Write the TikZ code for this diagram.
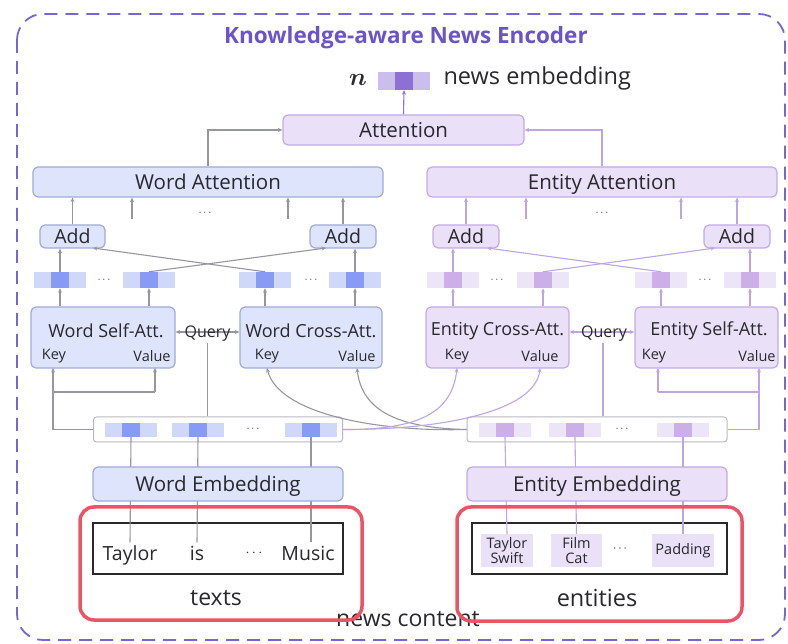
\documentclass[tikz,border=0pt]{standalone}
\usepackage{fontspec}
\setmainfont{Open Sans}
\usepackage{bm}
\usetikzlibrary{arrows.meta}

\definecolor{txt}{RGB}{40,40,45}
\definecolor{frame}{RGB}{120,100,210}
\definecolor{titlec}{RGB}{105,85,200}
\definecolor{bfill}{RGB}{222,228,252}
\definecolor{bdraw}{RGB}{160,170,215}
\definecolor{vfill}{RGB}{234,224,248}
\definecolor{vdraw}{RGB}{195,170,228}
\definecolor{bdark}{RGB}{135,155,245}
\definecolor{blight}{RGB}{208,216,250}
\definecolor{vdark}{RGB}{205,175,232}
\definecolor{vlight}{RGB}{236,228,247}
\definecolor{ndark}{RGB}{140,112,212}
\definecolor{nlight}{RGB}{202,190,236}
\definecolor{gline}{RGB}{150,150,160}
\definecolor{vline}{RGB}{190,165,225}
\definecolor{redc}{RGB}{236,84,102}
\definecolor{barline}{RGB}{185,185,195}

\tikzset{
  tip/.style={-{Stealth[length=4.5pt,width=4pt]}},
  dtip/.style={{Stealth[length=4.5pt,width=4pt]}-{Stealth[length=4.5pt,width=4pt]}},
  blk/.style={rounded corners=5pt, draw=#1, line width=1.2pt, inner sep=0pt, text=txt},
  bbox/.style={blk=bdraw, fill=bfill},
  vbox/.style={blk=vdraw, fill=vfill},
  cell/.style={inner sep=0pt, minimum width=17.3pt, minimum height=16pt},
  gl/.style={draw=gline, line width=1.1pt},
  vl/.style={draw=vline, line width=1.1pt},
  lbl/.style={font=\fontsize{20.5}{24}\selectfont, text=txt, text height=17pt, text depth=2.4pt},
  addl/.style={font=\fontsize{19.5}{23}\selectfont, text=txt, text height=15pt, text depth=1pt},
  attl/.style={font=\fontsize{18}{21}\selectfont, text=txt},
  small/.style={font=\fontsize{14.5}{17}\selectfont, text=txt},
  dots/.style={font=\fontsize{11}{13}\selectfont, text=txt, inner sep=0pt},
  bar/.style={rounded corners=3pt, draw=barline, fill=white, line width=1pt, inner sep=0pt},
  redbox/.style={rounded corners=14pt, draw=redc, line width=3.5pt},
}

% three-cell embedding vector: name, x, y, dark colour, light colour
\newcommand\emvec[5]{%
  \node[cell, fill=#5] at (#2-17.3,#3) {};
  \node[cell, fill=#5] at (#2+17.3,#3) {};
  \node[cell, fill=#4] (#1) at (#2,#3) {};
}

\begin{document}
\begin{tikzpicture}[x=1pt, y=-1pt]
\useasboundingbox (0,0) rectangle (788,644);

% outer encoder frame
\draw[frame, dashed, dash pattern=on 13pt off 8pt, line width=1.8pt, rounded corners=26pt]
  (17,14) rectangle (785,640);
\node[font=\bfseries\fontsize{22.5}{26}\selectfont, text=titlec] (title) at (406,38) {Knowledge-aware News Encoder};

% news embedding
\node[cell, fill=nlight, minimum height=18pt] at (386.7,81) {};
\node[cell, fill=nlight, minimum height=18pt] at (421.3,81) {};
\node[cell, fill=ndark, minimum height=18pt] (nv) at (404,81) {};
\node[text=txt, font=\fontsize{23}{26}\selectfont] (nsym) at (358,80) {$\bm{n}$};
\node[anchor=west, font=\fontsize{23.5}{27}\selectfont, text=txt] (nlab) at (440,78) {news embedding};

% attention stack
\node[vbox, minimum width=241pt, minimum height=30pt, lbl] (att) at (403.5,130) {Attention};
\node[bbox, minimum width=350pt, minimum height=30pt, lbl] (watt) at (208,182) {Word Attention};
\node[vbox, minimum width=350pt, minimum height=30pt, lbl] (eatt) at (602,182) {Entity Attention};

\draw[gl, tip] (watt.north) |- (att.west);
\draw[vl, tip] (eatt.north) |- (att.east);
\draw[vl, draw=ndark, tip] (att.north) -- (nv.south);

% add blocks
\node[bbox, minimum width=65pt, minimum height=23pt, addl] (aw1) at (72.5,236.5) {Add};
\node[bbox, minimum width=66pt, minimum height=23pt, addl] (aw2) at (343,236.5) {Add};
\node[vbox, minimum width=66pt, minimum height=23pt, addl] (ae1) at (466,236.5) {Add};
\node[vbox, minimum width=66pt, minimum height=23pt, addl] (ae2) at (737,236.5) {Add};

\coordinate (sw1) at (132,219);
\coordinate (sw2) at (288,219);
\coordinate (se1) at (526,219);
\coordinate (se2) at (681,219);
\draw[gl, tip] (aw1.north) -- (aw1.north |- watt.south);
\draw[gl, tip] (aw2.north) -- (aw2.north |- watt.south);
\draw[gl, tip] (sw1) -- (sw1 |- watt.south);
\draw[gl, tip] (sw2) -- (sw2 |- watt.south);
\draw[vl, tip] (ae1.north) -- (ae1.north |- eatt.south);
\draw[vl, tip] (ae2.north) -- (ae2.north |- eatt.south);
\draw[vl, tip] (se1) -- (se1 |- eatt.south);
\draw[vl, tip] (se2) -- (se2 |- eatt.south);
\node[dots] (dw0) at (205,213) {$\cdots$};
\node[dots] (de0) at (602,213) {$\cdots$};

% attention outputs
\emvec{vw1}{60}{280}{bdark}{blight}
\emvec{vw2}{149}{280}{bdark}{blight}
\emvec{vw3}{265}{280}{bdark}{blight}
\emvec{vw4}{355}{280}{bdark}{blight}
\emvec{ve1}{453}{280}{vdark}{vlight}
\emvec{ve2}{543}{280}{vdark}{vlight}
\emvec{ve3}{661}{280}{vdark}{vlight}
\emvec{ve4}{750}{280}{vdark}{vlight}
\node[dots] (dw1) at (104,280) {$\cdots$};
\node[dots] (dw2) at (311,280) {$\cdots$};
\node[dots] (de1) at (497,280) {$\cdots$};
\node[dots] (de2) at (705,280) {$\cdots$};

\coordinate (aw1x) at (93,248);
\coordinate (aw2x) at (326,248);
\coordinate (ae1x) at (487,248);
\coordinate (ae2x) at (715,248);
\draw[gl, tip] (vw1.north) -- (vw1.north |- aw1.south);
\draw[gl, tip] (vw4.north) -- (vw4.north |- aw2.south);
\draw[gl, tip] (vw2.north) -- (aw2x);
\draw[gl, tip] (vw3.north) -- (aw1x);
\draw[vl, tip] (ve1.north) -- (ve1.north |- ae1.south);
\draw[vl, tip] (ve4.north) -- (ve4.north |- ae2.south);
\draw[vl, tip] (ve2.north) -- (ae2x);
\draw[vl, tip] (ve3.north) -- (ae1x);

% self / cross attention blocks
\node[bbox, minimum width=144pt, minimum height=61pt] (wself) at (103,337.5) {};
\node[bbox, minimum width=142pt, minimum height=61pt] (wcross) at (311,337.5) {};
\node[vbox, minimum width=143pt, minimum height=61pt] (ecross) at (497.5,337.5) {};
\node[vbox, minimum width=143pt, minimum height=61pt] (eself) at (706.5,337.5) {};
\node[attl] at (106,331) {Word Self-Att.};
\node[attl] at (311,331) {Word Cross-Att.};
\node[attl] at (497.5,331) {Entity Cross-Att.};
\node[attl] at (709,331) {Entity Self-Att.};
\node[small] at (54,356) {Key};
\node[small] at (152,356) {Value};
\node[small] at (267,356) {Key};
\node[small] at (357,356) {Value};
\node[small] at (457,356) {Key};
\node[small] at (540,356) {Value};
\node[small] at (654,356) {Key};
\node[small] at (757,356) {Value};

\foreach \v in {vw1,vw2,vw3,vw4} \draw[gl, tip] (\v.south |- wself.north) -- (\v.south);
\foreach \v in {ve1,ve2,ve3,ve4} \draw[vl, tip] (\v.south |- ecross.north) -- (\v.south);

% queries
\draw[gl, dtip] ([yshift=5.5pt]wself.east) -- ([yshift=5.5pt]wcross.west);
\draw[vl, dtip] ([yshift=5.5pt]ecross.east) -- ([yshift=5.5pt]eself.west);
\node[font=\fontsize{16}{18}\selectfont, text=txt, inner sep=1pt] (qw) at (207.5,334) {Query};
\node[font=\fontsize{16}{18}\selectfont, text=txt, inner sep=1pt] (qe) at (604,334) {Query};
\coordinate (qwj) at (207.5,343);
\coordinate (qej) at (603,343);

% word / entity vector bars
\node[bar, minimum width=249pt, minimum height=25pt] (wbar) at (218,429.5) {};
\node[bar, minimum width=260pt, minimum height=25pt] (ebar) at (597,429.5) {};
\draw[gl] (qwj) -- (qwj |- wbar.north);
\draw[vl] (qej) -- (qej |- ebar.north);

\tikzset{cell/.append style={minimum height=14pt}}
\emvec{bw1}{131}{430}{bdark}{blight}
\emvec{bw2}{198}{430}{bdark}{blight}
\emvec{bw3}{311}{430}{bdark}{blight}
\emvec{be1}{505}{430}{vdark}{vlight}
\emvec{be2}{575}{430}{vdark}{vlight}
\emvec{be3}{683}{430}{vdark}{vlight}
\node[dots] (dw3) at (253,429) {$\cdots$};
\node[dots] (de3) at (622,429) {$\cdots$};

% key / value ports
\coordinate (wsk) at (53,368);
\coordinate (wsv) at (155,368);
\coordinate (wck) at (267,368);
\coordinate (wcv) at (357,368);
\coordinate (eck) at (457,368);
\coordinate (ecv) at (540,368);
\coordinate (esk) at (658,368);
\coordinate (esv) at (759,368);
\coordinate (wj1) at (53,392);
\coordinate (wj2) at (155,392);
\coordinate (ej1) at (658,392);
\coordinate (ej2) at (759,392);

\draw[gl] (wbar.west) -| (wj1) -- (wj2);
\draw[gl, tip] (wj1) -- (wsk);
\draw[gl, tip] (wj2) -- (wsv);
\draw[vl] (ebar.east) -| (ej2) -- (ej1);
\draw[vl, tip] (ej1) -- (esk);
\draw[vl, tip] (ej2) -- (esv);

% cross connections between the two branches
\draw[gl, tip] (ebar.west) .. controls (370,432) and (278,412) .. (wck);
\draw[gl, tip] (ebar.west) .. controls (400,428) and (362,412) .. (wcv);
\draw[vl, tip] (wbar.east) .. controls (420,430) and (452,412) .. (eck);
\draw[vl, tip] (wbar.east) .. controls (440,430) and (535,412) .. (ecv);

% raw news content
\node[minimum width=250pt, minimum height=51pt, draw=txt, line width=1.3pt] (wtxt) at (218,548.5) {};
\node[minimum width=255pt, minimum height=51pt, draw=txt, line width=1.3pt] (etxt) at (599.5,548.5) {};
\node[font=\fontsize{19.5}{23}\selectfont, text=txt, text height=14pt, text depth=4pt] (t1) at (130,555) {Taylor};
\node[font=\fontsize{19.5}{23}\selectfont, text=txt, text height=14pt, text depth=4pt] (t2) at (197,555) {is};
\node[font=\fontsize{14}{16}\selectfont, text=txt] (t3) at (254,553) {$\cdots$};
\node[font=\fontsize{19.5}{23}\selectfont, text=txt, text height=14pt, text depth=4pt] (t4) at (308,555) {Music};

\node[fill=vfill, minimum width=52pt, minimum height=33pt, inner sep=0pt, align=center,
      font=\fontsize{14.5}{15}\selectfont, text=txt] (e1) at (507,550.5) {Taylor\\Swift};
\node[fill=vfill, minimum width=51pt, minimum height=33pt, inner sep=0pt, align=center,
      font=\fontsize{14.5}{15}\selectfont, text=txt] (e2) at (576.5,550.5) {Film\\Cat};
\node[font=\fontsize{13}{15}\selectfont, text=txt] (e3) at (620,549) {$\cdots$};
\node[fill=vfill, minimum width=62pt, minimum height=33pt, inner sep=0pt,
      font=\fontsize{14.5}{15}\selectfont, text=txt] (e4) at (683,550.5) {Padding};

\draw[gl] (t1.north) -- (bw1.south);
\draw[gl] (t2.north) -- (bw2.south);
\draw[gl] (t4.north -| bw3.south) -- (bw3.south);
\draw[vl] (e1.north) -- (be1.south);
\draw[vl] (e2.north) -- (be2.south);
\draw[vl] (e4.north) -- (be3.south);

\node[bbox, minimum width=250pt, minimum height=34pt, lbl] (wemb) at (218,484) {Word Embedding};
\node[vbox, minimum width=260pt, minimum height=34pt, lbl] (eemb) at (597,484) {Entity Embedding};

\node[font=\fontsize{23}{26}\selectfont, text=txt] (ncont) at (408,619) {news content};
\node[font=\fontsize{23}{26}\selectfont, text=txt] (texts) at (216,598) {texts};
\node[font=\fontsize{23.5}{26}\selectfont, text=txt] (ents) at (597,598) {entities};

\node[redbox, minimum width=282pt, minimum height=113pt] (wred) at (221,563.5) {};
\node[redbox, minimum width=285pt, minimum height=114pt] (ered) at (599.5,564) {};
\end{tikzpicture}
\end{document}
